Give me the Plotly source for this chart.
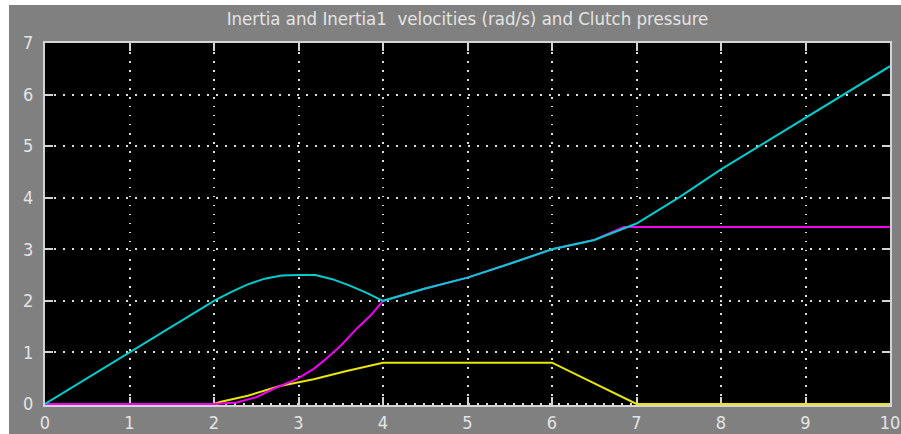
# -*- coding: utf-8 -*-
"""
Scope 图: Inertia / Inertia1 速度与离合器压力
"""

import plotly.graph_objects as go

# 数据 (从示波器截图读取)
cyan_t = [0, 0.5, 1, 1.5, 2, 2.2, 2.4, 2.6, 2.8, 3.0, 3.2, 3.4, 3.6, 3.8, 4.0,
          4.5, 5.0, 5.5, 6.0, 6.5, 7.0, 7.5, 8.0, 8.5, 9.0, 9.5, 10]
cyan_w = [0, 0.5, 1.0, 1.5, 2.0, 2.17, 2.32, 2.43, 2.49, 2.5, 2.5, 2.42, 2.3, 2.16, 2.0,
          2.24, 2.45, 2.72, 3.0, 3.18, 3.5, 4.0, 4.55, 5.05, 5.55, 6.05, 6.55]

magenta_t = [0, 2.0, 2.27, 2.5, 2.7, 2.98, 3.18, 3.3, 3.5, 3.7, 3.85, 4.0,
             4.5, 5.0, 5.5, 6.0, 6.5, 6.85, 10]
magenta_w = [0, 0, 0.03, 0.13, 0.29, 0.48, 0.68, 0.84, 1.13, 1.48, 1.71, 2.0,
             2.24, 2.45, 2.72, 3.0, 3.18, 3.43, 3.43]

yellow_t = [0, 2.0, 2.07, 2.4, 2.78, 3.0, 3.18, 3.57, 4.0, 6.0, 7.0, 10]
yellow_p = [0, 0, 0.04, 0.16, 0.35, 0.42, 0.48, 0.64, 0.8, 0.8, 0, 0]

x_ticks = list(range(0, 11))
y_ticks = list(range(0, 8))

title_text = "Inertia and Inertia1  velocities (rad/s) and Clutch pressure"

FONT = "Liberation Sans Narrow, DejaVu Sans Condensed, Arial Narrow, Arial, sans-serif"
TEXT_COLOR = "#e4e4e4"
AXIS_COLOR = "#d4d4d4"


def create_scope_chart():
    fig = go.Figure()

    # 离合器压力 (黄)
    fig.add_trace(go.Scatter(
        x=yellow_t, y=yellow_p, mode='lines', name='Clutch pressure',
        line=dict(color='#e8e800', width=2)
    ))
    # Inertia1 (品红)
    fig.add_trace(go.Scatter(
        x=magenta_t, y=magenta_w, mode='lines', name='Inertia1',
        line=dict(color='#f000f0', width=2)
    ))
    # Inertia (青)
    fig.add_trace(go.Scatter(
        x=cyan_t, y=cyan_w, mode='lines', name='Inertia',
        line=dict(color='#00cccc', width=2)
    ))

    axis_common = dict(
        showline=True, linecolor=AXIS_COLOR, linewidth=2, mirror='ticks',
        ticks='inside', ticklen=8, tickwidth=2, tickcolor=AXIS_COLOR,
        showgrid=True, gridcolor='#dddddd', gridwidth=1.5, griddash='1.5px,7.5px',
        zeroline=False, layer='below traces', automargin=False,
        tickfont=dict(family=FONT, size=18, color=TEXT_COLOR),
    )

    fig.update_xaxes(range=[0, 10], tickvals=x_ticks, ticklabelstandoff=0,
                     **axis_common)
    fig.update_yaxes(range=[-0.02, 7], tickvals=y_ticks, ticklabelstandoff=6,
                     **axis_common)

    # 左侧与顶部的白边
    W, H = 901, 434
    l, r, t, b = 45, 11, 43, 29
    pw, ph = W - l - r, H - t - b

    def px(x):
        return (x - l) / pw

    def py(y):
        return (H - b - y) / ph

    fig.add_shape(type='rect', xref='paper', yref='paper',
                  x0=px(0), x1=px(9), y0=py(H), y1=py(0),
                  fillcolor='white', line=dict(width=0), layer='above')
    fig.add_shape(type='rect', xref='paper', yref='paper',
                  x0=px(0), x1=px(W), y0=py(5), y1=py(0),
                  fillcolor='white', line=dict(width=0), layer='above')

    fig.update_layout(
        width=W, height=H,
        margin=dict(l=l, r=r, t=t, b=b, pad=0, autoexpand=False),
        paper_bgcolor='#808080',
        plot_bgcolor='black',
        showlegend=False,
        title=dict(
            text=title_text, x=0.5, xref='paper', xanchor='center',
            y=1 - 19 / H, yref='container', yanchor='middle',
            font=dict(family=FONT, size=18.5, color=TEXT_COLOR)
        ),
    )
    return fig


fig = create_scope_chart()
# 去掉页面默认边距, 使图形贴齐窗口
fig.write_html("out.html", config={'displayModeBar': False},
               post_script="document.body.style.margin = '0';")
